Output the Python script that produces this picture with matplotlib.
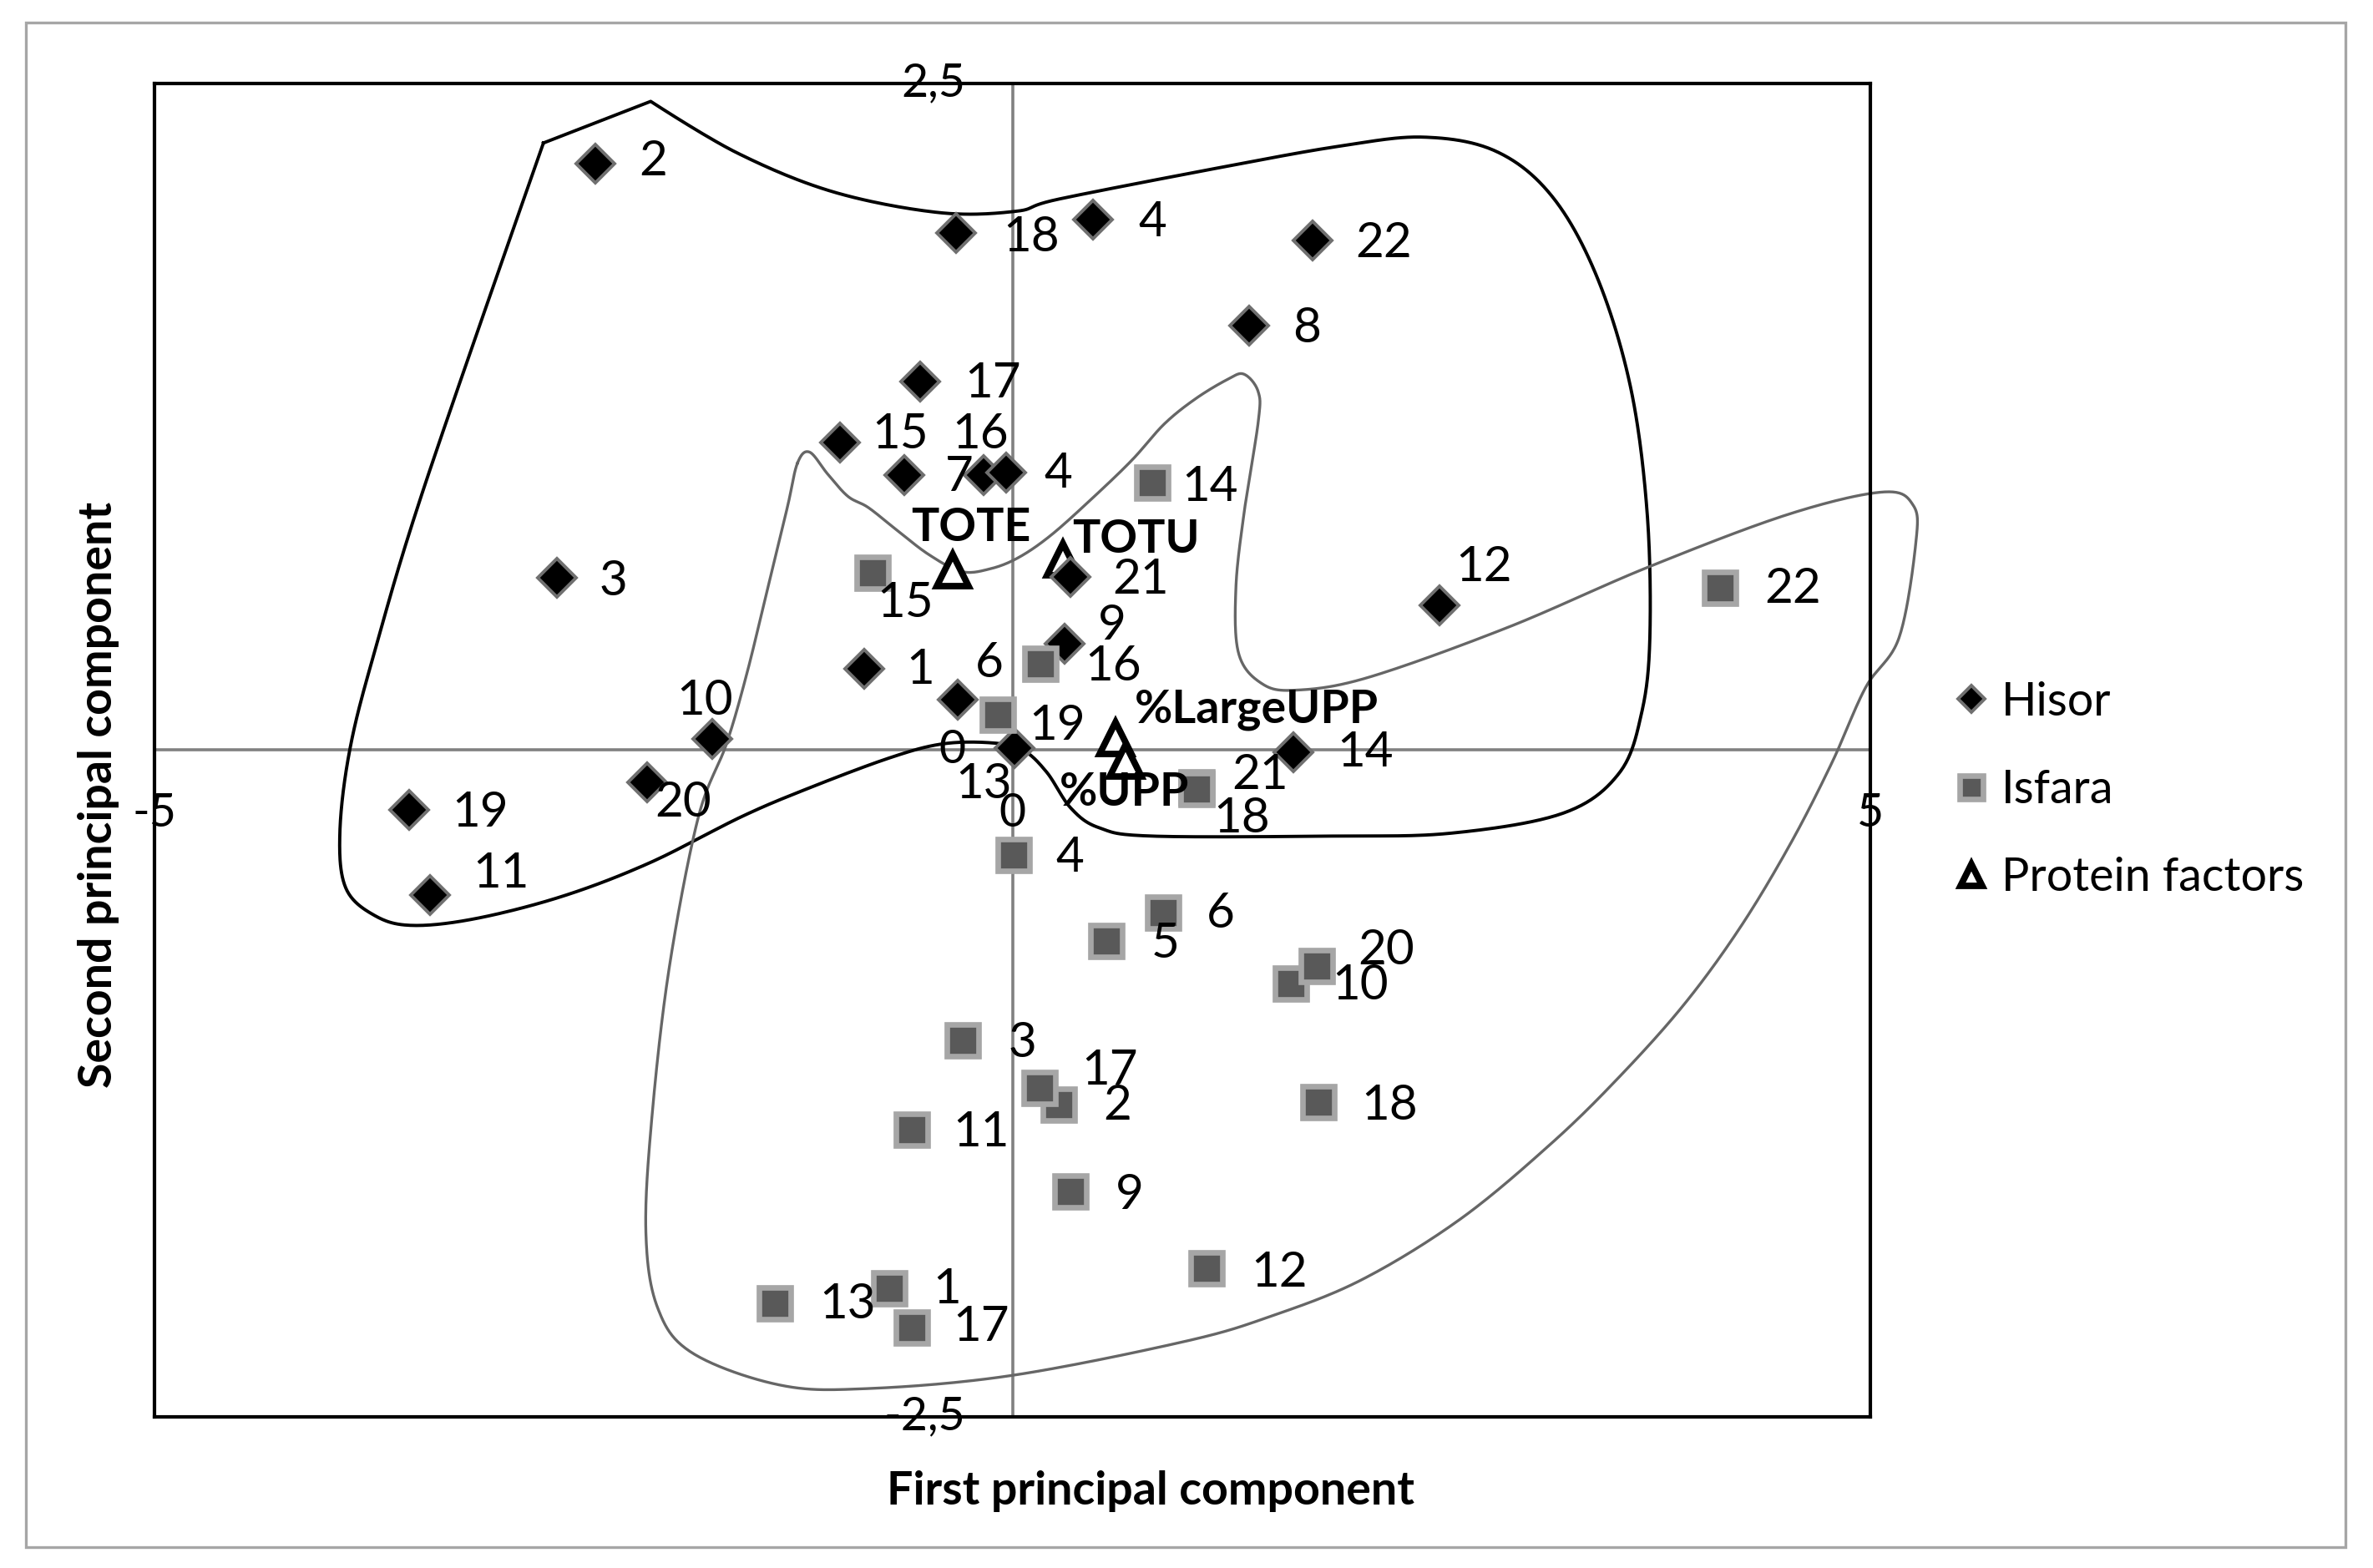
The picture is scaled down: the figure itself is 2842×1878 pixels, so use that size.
import numpy as np
import matplotlib.pyplot as plt
from matplotlib.patches import Rectangle

plt.rcParams['font.family'] = ['Liberation Sans Narrow', 'Lato', 'DejaVu Sans']

# ---- data: PCA scores ----
hisor_labels = ["2", "18", "4", "22", "8", "17", "15", "16", "7", "4", "3",
                "21", "12", "9", "1", "6", "10", "13", "14", "20", "19", "11"]
hisor_x = [-2.43, -0.33, 0.47, 1.75, 1.38, -0.54, -1.005, -0.17, -0.63, -0.035, -2.654,
           0.34, 2.49, 0.305, -0.864, -0.321, -1.75, 0.01, 1.639, -2.13, -3.514, -3.396]
hisor_y = [2.20, 1.94, 1.99, 1.91, 1.59, 1.38, 1.154, 1.03, 1.03, 1.04, 0.647,
           0.648, 0.543, 0.397, 0.304, 0.188, 0.041, 0.006, -0.01, -0.12, -0.225, -0.543]

isfara_labels = ["14", "15", "22", "16", "19", "21", "18", "4", "6", "5", "10", "20",
                 "3", "2", "17", "18", "11", "9", "12", "13", "1", "17"]
isfara_x = [0.813, -0.817, 4.123, 0.163, -0.085, 1.072, 1.072, 0.009, 0.876, 0.548, 1.623, 1.774,
            -0.288, 0.268, 0.160, 1.781, -0.589, 0.340, 1.133, -1.383, -0.718, -0.589]
isfara_y = [1.003, 0.663, 0.609, 0.324, 0.131, -0.14, -0.145, -0.393, -0.609, -0.715, -0.877, -0.809,
            -1.089, -1.329, -1.266, -1.322, -1.425, -1.657, -1.943, -2.075, -2.018, -2.165]

protein_labels = ["TOTE", "TOTU", "%LargeUPP", "%UPP"]
protein_x = [-0.349, 0.294, 0.600, 0.660]
protein_y = [0.674, 0.716, 0.043, -0.041]

x_ticks = [-5, 0, 5]
y_ticks = [2.5, 0, -2.5]
y_tick_labels = ["2,5", "0", "-2,5"]

# hand-drawn group outlines (data coords)
hisor_hull_x = [-2.733, -2.108, -1.608, -1.046, -0.428, 0.022, 0.273, 1.252, 1.905, 2.394, 2.817,
                3.144, 3.405, 3.601, 3.698, 3.714, 3.666, 3.535, 3.209, 2.557, 1.861, 0.813,
                0.506, 0.340, 0.199, 0.057, -0.131, -0.415, -0.722, -1.194, -1.578, -2.113,
                -2.619, -3.125, -3.497, -3.716, -3.885, -3.919, -3.860, -3.716, -3.422]
hisor_hull_y = [2.276, 2.432, 2.240, 2.093, 2.015, 2.020, 2.066, 2.189, 2.264, 2.298, 2.245,
                2.076, 1.775, 1.362, 0.891, 0.421, 0.139, -0.087, -0.237, -0.312, -0.323, -0.323,
                -0.292, -0.218, -0.083, 0.001, 0.027, 0.022, -0.031, -0.145, -0.250, -0.423,
                -0.548, -0.632, -0.658, -0.621, -0.517, -0.308, 0.005, 0.370, 0.997]
isfara_hull_x = [-1.253, -1.183, -1.076, -0.959, -0.840, -0.675, -0.486, -0.297, -0.131, 0.034,
                 0.222, 0.459, 0.695, 0.884, 1.067, 1.252, 1.349, 1.432, 1.432, 1.350, 1.302,
                 1.317, 1.448, 1.644, 2.068, 2.884, 3.698, 4.513, 5.068, 5.247, 5.264, 5.166,
                 4.970, 4.774, 4.533, 4.242, 3.915, 3.536, 3.139, 2.610, 2.037, 1.508, 1.004,
                 -0.009, -0.853, -1.359, -1.866, -2.068, -2.136, -2.102, -2.001, -1.832, -1.667,
                 -1.549, -1.430, -1.312]
isfara_hull_y = [1.075, 1.117, 1.034, 0.951, 0.909, 0.825, 0.732, 0.669, 0.679, 0.721,
                 0.804, 0.940, 1.086, 1.222, 1.317, 1.389, 1.409, 1.343, 1.230, 0.891, 0.609,
                 0.364, 0.251, 0.224, 0.271, 0.459, 0.684, 0.882, 0.967, 0.919, 0.778, 0.421,
                 0.233, -0.049, -0.352, -0.664, -0.953, -1.226, -1.476, -1.759, -1.986, -2.123,
                 -2.218, -2.346, -2.395, -2.381, -2.261, -2.091, -1.809, -1.385, -0.821, -0.256,
                 0.022, 0.283, 0.596, 0.909]

# label offsets in screen px of the original (dx right, dy down)
hisor_off = [(38, -1), (50, 3), (39, 2), (47, 2), (38, 2), (48, 1), (40, -5), (-2, -27), (36, 1),
             (34, 1), (37, 3), (46, 2), (29, -25), (31, -12), (37, 1), (21, -24), (-5, -25),
             (-20, 24), (47, 0), (24, 14), (47, 2), (47, -14)]
isfara_off = [(38, 3), (22, 20), (48, 1), (48, 2), (39, 7), (42, -8), (30, 20), (37, 2), (38, 1),
              (39, 2), (46, 1), (46, -10), (39, 2), (39, 1), (46, -11), (47, 2), (46, 2), (39, 2),
              (48, 3), (48, 1), (38, 1), (46, 0)]
protein_off = [(12, -28), (48, -13), (93, -19), (-1, 21)]
PX = 0.6525  # one px of the reference in points


def smooth_closed(xs, ys, corners=(), n=25):
    # closed cubic hermite (catmull-rom) through the outline points
    pts = np.column_stack([xs, ys])
    m = len(pts)
    s = np.linspace(0, 1, n, endpoint=False)[:, None]
    h00 = 2 * s**3 - 3 * s**2 + 1
    h10 = s**3 - 2 * s**2 + s
    h01 = -2 * s**3 + 3 * s**2
    h11 = s**3 - s**2
    out = []
    for i in range(m):
        j = (i + 1) % m
        p1, p2 = pts[i], pts[j]
        t1 = np.zeros(2) if i in corners else (pts[j] - pts[i - 1]) / 2
        t2 = np.zeros(2) if j in corners else (pts[(i + 2) % m] - pts[i]) / 2
        out.append(h00 * p1 + h10 * t1 + h01 * p2 + h11 * t2)
    out.append(pts[:1])
    c = np.vstack(out)
    return c[:, 0], c[:, 1]


fig = plt.figure(figsize=(14.21, 9.39), dpi=200)
ax = fig.add_axes([0.06505, 0.09653, 0.72322, 0.85038])
ax.set_xlim(-5, 5)
ax.set_ylim(-2.5, 2.5)
ax.set_xticks([])
ax.set_yticks([])
for sp in ax.spines.values():
    sp.set_color('black')
    sp.set_linewidth(1.5)

ax.axhline(0, color='#808080', lw=1.3, zorder=1)
ax.axvline(0, color='#808080', lw=1.3, zorder=1)

bx, by = smooth_closed(hisor_hull_x, hisor_hull_y, corners=(0, 1))
ax.plot(bx, by, color='black', lw=1.4, zorder=2, clip_on=False)
gx, gy = smooth_closed(isfara_hull_x, isfara_hull_y)
ax.plot(gx, gy, color='#666666', lw=1.2, zorder=2, clip_on=False)

ax.plot(protein_x, protein_y, linestyle='none', marker='^', ms=13.5, mfc='white',
        mec='black', mew=2.8, zorder=3, label='Protein factors')
ax.plot(hisor_x, hisor_y, linestyle='none', marker='D', ms=11.5, mfc='black',
        mec='#707070', mew=1.4, zorder=4, label='Hisor')
ax.plot(isfara_x, isfara_y, linestyle='none', marker='s', ms=14, mfc='#595959',
        mec='#a6a6a6', mew=2.4, zorder=5, label='Isfara')

for labs, xs, ys, offs in [(hisor_labels, hisor_x, hisor_y, hisor_off),
                           (isfara_labels, isfara_x, isfara_y, isfara_off)]:
    for t, x, y, (dx, dy) in zip(labs, xs, ys, offs):
        ax.annotate(t, (x, y), xytext=(dx * PX, -dy * PX), textcoords='offset points',
                    ha='center', va='center', fontsize=21, zorder=6, annotation_clip=False)
for t, x, y, (dx, dy) in zip(protein_labels, protein_x, protein_y, protein_off):
    ax.annotate(t, (x, y), xytext=(dx * PX, -dy * PX), textcoords='offset points',
                ha='center', va='center', fontsize=20, fontweight='bold', zorder=6)

# axis numbers sit next to the crossing axes (Excel style)
for v in x_ticks:
    ax.annotate(str(v), (v, 0), xytext=(0, -42 * PX), textcoords='offset points',
                ha='center', va='center', fontsize=20, annotation_clip=False)
for v, t in zip(y_ticks, y_tick_labels):
    ax.annotate(t, (0, v), xytext=(-31 * PX, 0), textcoords='offset points',
                ha='right', va='center', fontsize=20, annotation_clip=False)

fig.text(0.4847, 0.0492, 'First principal component', ha='center', va='center',
         fontsize=20, fontweight='bold')
fig.text(0.0415, 0.4932, 'Second principal component', ha='center', va='center',
         rotation=90, fontsize=20, fontweight='bold')

h, l = ax.get_legend_handles_labels()
order = [1, 2, 0]
fig.legend([h[i] for i in order], [l[i] for i in order], loc='center left',
           bbox_to_anchor=(0.823, 0.496), frameon=False, fontsize=20,
           handlelength=0.8, handletextpad=0.25, borderpad=0, borderaxespad=0,
           labelspacing=0.98, markerscale=0.7)

fig.patches.append(Rectangle((17 / 1568, 1 - 1022 / 1036), 1533 / 1568, 1007 / 1036,
                             transform=fig.transFigure, fill=False,
                             edgecolor='#a6a6a6', lw=1.2))

plt.savefig('out.png', dpi=200)
